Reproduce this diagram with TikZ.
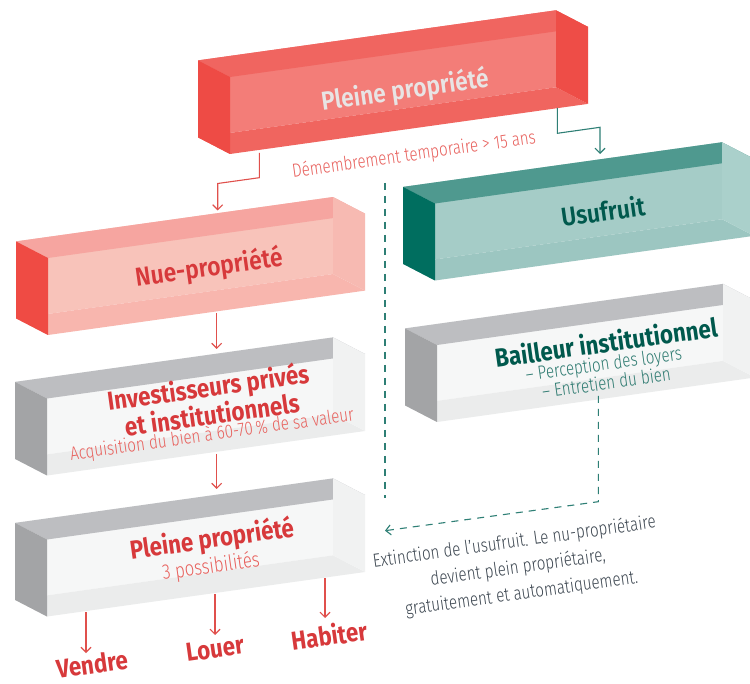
\documentclass[tikz,border=0pt]{standalone}
\usepackage{fontspec}
\usetikzlibrary{calc,arrows.meta}
\setmainfont{Fira Sans}
\newfontfamily\fsLight{Fira Sans Light}[FakeStretch=0.8]
\newfontfamily\fsSemi{Fira Sans SemiBold}[FakeStretch=0.88]
\newfontfamily\fsHeavy{Fira Sans}[FakeStretch=0.86]

\definecolor{hotL}{HTML}{EE4B45}
\definecolor{hotT}{HTML}{F06560}
\definecolor{hotB}{HTML}{F37D78}
\definecolor{hotF}{HTML}{F0655F}
\definecolor{hotR}{HTML}{EE4D47}
\definecolor{pinkL}{HTML}{EF4B44}
\definecolor{pinkT}{HTML}{F6A5A0}
\definecolor{pinkB}{HTML}{F8C3BA}
\definecolor{pinkF}{HTML}{F8B6AE}
\definecolor{pinkR}{HTML}{F7BAB2}
\definecolor{tealL}{HTML}{006E5F}
\definecolor{tealT}{HTML}{4F998F}
\definecolor{tealB}{HTML}{A5CCC7}
\definecolor{tealF}{HTML}{9CC6C1}
\definecolor{tealR}{HTML}{AAD0CB}
\definecolor{greyL}{HTML}{A3A4A6}
\definecolor{greyT}{HTML}{BDBEC1}
\definecolor{greyB}{HTML}{F6F7F7}
\definecolor{greyF}{HTML}{EBECEC}
\definecolor{greyR}{HTML}{F1F2F2}
\definecolor{titlered}{HTML}{D7393B}
\definecolor{softred}{HTML}{E8605C}
\definecolor{linkred}{HTML}{E0504C}
\definecolor{deepgreen}{HTML}{00594D}
\definecolor{midgreen}{HTML}{2D7A70}
\definecolor{linkteal}{HTML}{2E7F75}
\definecolor{slate}{HTML}{3C4650}
\definecolor{pale}{HTML}{E8E4E4}

% glass box: name, x and y of the front top-left corner, front width, palette
\newcommand\gbox[5]{%
  \coordinate (#1-ftl) at (#2,#3);
  \coordinate (#1-ftr) at ($(#1-ftl)+(#4,-0.14*#4)$);
  \coordinate (#1-fbl) at ($(#1-ftl)+(0,77)$);
  \coordinate (#1-fbr) at ($(#1-ftr)+(0,77)$);
  \coordinate (#1-btl) at ($(#1-ftl)+(-32,-16.6)$);
  \coordinate (#1-btr) at ($(#1-ftr)+(-32,-16.6)$);
  \coordinate (#1-bbl) at ($(#1-fbl)+(-32,-16.6)$);
  \coordinate (#1-bbr) at ($(#1-fbr)+(-32,-16.6)$);
  \fill[#5B] (#1-btl) -- (#1-btr) -- (#1-bbr) -- (#1-bbl) -- cycle;
  \fill[#5F] (#1-bbl) -- (#1-bbr) -- (#1-fbr) -- (#1-fbl) -- cycle;
  \fill[#5T] (#1-btl) -- (#1-btr) -- (#1-ftr) -- (#1-ftl) -- cycle;
  \fill[#5R] (#1-btr) -- (#1-ftr) -- (#1-fbr) -- (#1-bbr) -- cycle;
  \fill[#5L] (#1-btl) -- (#1-ftl) -- (#1-fbl) -- (#1-bbl) -- cycle;
}

\tikzset{
  semi/.style={rotate=8, inner sep=0pt, font=\fsSemi\fontsize{26}{30}\selectfont},
  heavy/.style={rotate=8, inner sep=0pt, align=center, font=\fsHeavy\bfseries\fontsize{26}{20}\selectfont},
  thin/.style={rotate=8, inner sep=0pt, align=center, font=\fsLight\fontsize{19}{21}\selectfont},
  link/.style={line width=1.1pt, -{Straight Barb[length=5pt,width=10pt,line width=1.1pt]}},
  dashlink/.style={line width=1.1pt, draw=linkteal, dash pattern=on 7pt off 6pt}
}

\begin{document}
\begin{tikzpicture}[x=1pt,y=-1pt]
\useasboundingbox (0,0) rectangle (750,684);
\clip (0,0) rectangle (750,684);
\fill[white] (0,0) rectangle (750,684);

% boxes
\gbox{full}{230}{77}{358}{hot}
\gbox{bare}{48}{258}{317}{pink}
\gbox{usu}{435}{203.5}{319}{teal}
\gbox{inv}{47}{398.5}{318}{grey}
\gbox{bail}{437}{345}{318}{grey}
\gbox{end}{47}{539.5}{318}{grey}

% box texts
\node[semi, text=pale] (tfull) at (405,91) {Pleine propriété};
\node[semi, text=titlered] (tbare) at (209,268) {Nue-propriété};
\node[semi, text=deepgreen] (tusu) at (603,211) {Usufruit};
\node[heavy, text=titlered] (tinv) at (210,400) {Investisseurs privés\\et institutionnels};
\node[thin, text=softred] (tinv2) at (212,435) {Acquisition du bien à 60-70\,\% de sa valeur};
\node[heavy, text=deepgreen] (tbail) at (606,342) {Bailleur institutionnel};
\node[thin, text=midgreen, font=\fsLight\fontsize{19}{16}\selectfont] (tbail2) at (605,373) {– Perception des loyers\\– Entretien du bien};
\node[heavy, text=titlered] (tend) at (212,540) {Pleine propriété};
\node[thin, text=softred, font=\fsLight\fontsize{21}{21}\selectfont] (tend2) at (211,567) {3 possibilités};

% outcomes
\node[heavy, text=titlered] (sell) at (92,664) {Vendre};
\node[heavy, text=titlered] (rent) at (215,649) {Louer};
\node[heavy, text=titlered] (live) at (329,635) {Habiter};

% free labels
\node[thin, text=softred] (split) at (414,155) {Démembrement temporaire > 15 ans};
\node[thin, text=slate, font=\fsLight\fontsize{19}{26}\selectfont] (expiry) at (518,568)
  {Extinction de l’usufruit. Le nu-propriétaire\\devient plein propriétaire,\\gratuitement et automatiquement.};

% connector anchors
\coordinate (a1s) at (259.3,153);
\coordinate (a1k) at (259.3,177.7);
\coordinate (a1j) at (217.7,183.5);
\coordinate (a1e) at (217.7,210.5);
\coordinate (a2s) at (557.3,108);
\coordinate (a2k) at (557.3,133.3);
\coordinate (a2j) at (600,127.3);
\coordinate (a2e) at (600,154);
\coordinate (a3s) at (216.7,313);
\coordinate (a3e) at (216.7,349);
\coordinate (a4s) at (216.7,454);
\coordinate (a4e) at (216.7,489);
\coordinate (a5s) at (86,612);
\coordinate (a5e) at (86,653);
\coordinate (a6s) at (215,594);
\coordinate (a6e) at (215,635);
\coordinate (a7s) at (325,578);
\coordinate (a7e) at (325,618);
\coordinate (sepTop) at (385,183);
\coordinate (sepBot) at (385,498);
\coordinate (d1s) at (598.3,396);
\coordinate (d1k) at (598.3,501.7);
\coordinate (d1e) at (385,530.7);

% connectors
\draw[link, linkred] (a1s) -- (a1k) -- (a1j) -- (a1e);
\draw[link, linkteal] (a2s) -- (a2k) -- (a2j) -- (a2e);
\draw[link, linkred] (a3s) -- (a3e);
\draw[link, linkred] (a4s) -- (a4e);
\draw[link, linkred] (a5s) -- (a5e);
\draw[link, linkred] (a6s) -- (a6e);
\draw[link, linkred] (a7s) -- (a7e);
\draw[dashlink] (sepTop) -- (sepBot);
\draw[dashlink, -{Straight Barb[length=5pt,width=10pt,line width=1.1pt]}] (d1s) -- (d1k) -- (d1e);
\end{tikzpicture}
\end{document}
